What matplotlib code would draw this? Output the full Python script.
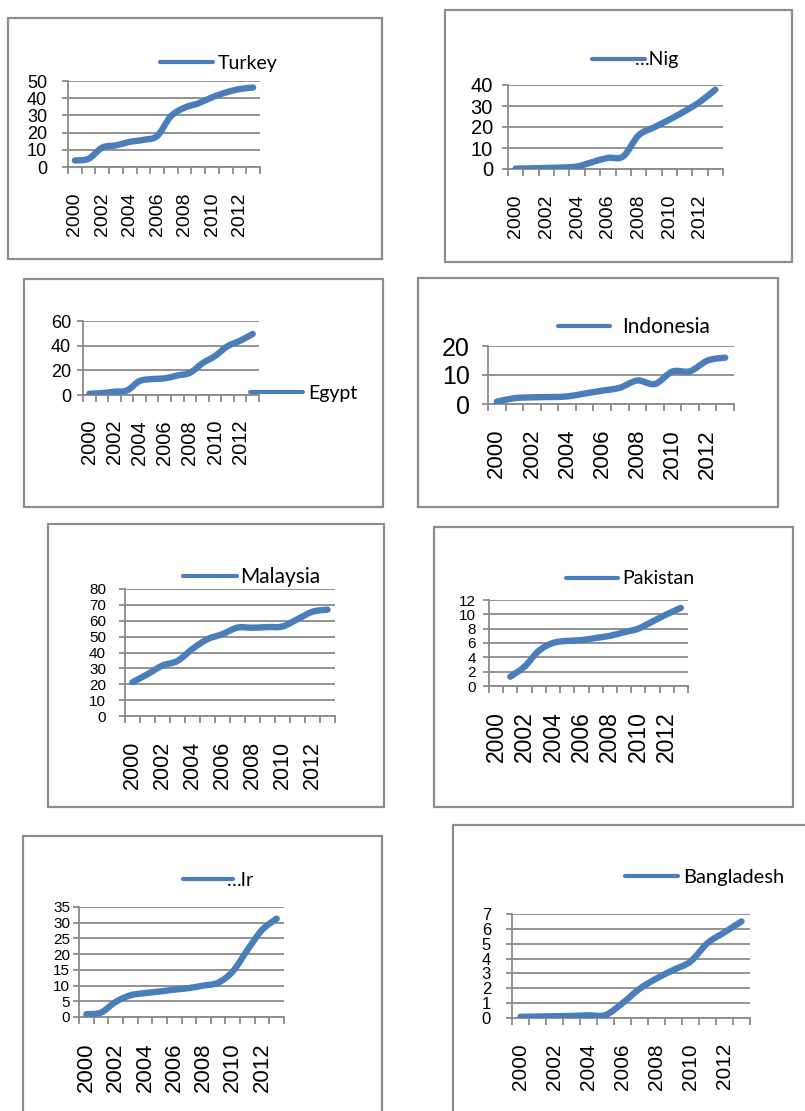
import numpy as np
import matplotlib
matplotlib.use("Agg")
import matplotlib.pyplot as plt
from matplotlib.path import Path
from matplotlib.patches import PathPatch, Rectangle
from matplotlib.lines import Line2D

plt.rcParams['font.family'] = ['Liberation Sans', 'DejaVu Sans']

# ---- data -------------------------------------------------------------
years = list(range(2000, 2014))
year_labels = [str(y) for y in years]

turkey = [3.8, 4.8, 11.3, 12.6, 14.6, 15.8, 18.0, 29.5, 34.5, 37.0, 40.5, 43.3, 45.3, 46.2]
nig = [0.2, 0.3, 0.5, 0.7, 1.2, 3.3, 5.3, 6.0, 16.0, 19.8, 23.5, 27.5, 32.0, 37.8]
egypt = [1.0, 1.5, 2.7, 3.7, 11.3, 12.9, 13.5, 15.8, 18.0, 25.7, 31.6, 39.6, 44.0, 49.5]
indonesia = [0.8, 2.0, 2.3, 2.4, 2.6, 3.6, 4.6, 5.6, 8.1, 6.9, 11.2, 11.3, 15.0, 16.0]
malaysia = [21.3, 26.3, 31.8, 34.7, 42.3, 48.4, 51.6, 55.7, 55.6, 56.0, 56.4, 61.0, 65.7, 67.0]
pakistan = [None, 1.3, 2.7, 4.9, 6.0, 6.3, 6.4, 6.7, 7.0, 7.5, 8.0, 9.0, 10.0, 10.9]
iran = [0.9, 1.4, 4.8, 6.9, 7.6, 8.1, 8.7, 9.2, 10.0, 10.9, 14.5, 21.3, 27.7, 31.3]
bangladesh = [0.08, 0.1, 0.12, 0.14, 0.18, 0.2, 1.0, 1.96, 2.66, 3.24, 3.8, 5.04, 5.77, 6.5]

series_names = ['Turkey', '…Nig', 'Egypt', 'Indonesia', 'Malaysia', 'Pakistan', '…Ir', 'Bangladesh']
series_values = [turkey, nig, egypt, indonesia, malaysia, pakistan, iran, bangladesh]
y_max = [50, 40, 60, 20, 80, 12, 35, 7]
y_step = [10, 10, 20, 10, 10, 2, 5, 1]

# ---- layout (pixels, origin top-left) ---------------------------------
W, H = 805, 1111
# chart frame, plot area, legend (line start, line end, text x, y)
frames = [(8, 18, 382, 259), (445, 10, 792, 262), (24, 279, 383, 507), (418, 278, 778, 507),
          (48, 524, 384, 807), (434, 527, 793, 807), (23, 836, 382, 1130), (453, 825, 830, 1130)]
plots = [(68, 81, 260, 167), (508, 85, 723, 169), (83, 321, 259, 395), (488, 346, 734, 404),
         (125, 589, 335, 716), (489, 600, 688, 686), (79, 907, 284, 1017), (512, 914, 750, 1018)]
legends = [(160, 213, 218, 63), (592, 645, 635, 60), (250, 303, 308, 393), (558, 610, 622, 327),
           (183, 237, 240, 577), (566, 618, 622, 579), (183, 233, 227, 880), (625, 678, 683, 877)]
ytick_fs = [13, 14.5, 13, 18, 11, 11, 11, 12]
xtick_fs = [14, 14, 14.5, 16, 15.5, 16.5, 16, 15]
legend_fs = [14, 14, 14, 15, 15, 14, 14, 14.5]
ylabel_gap = [15, 9, 6, 12, 13, 7, 3, 15]

LINE = '#4A7EBB'
GRID = '#8A8A8A'
FRAME = '#8C8C8C'
PX = 72 / 100  # points per pixel at dpi 100


def smooth_path(xs, ys):
    pts = np.column_stack([xs, ys]).astype(float)
    n = len(pts)
    verts = [pts[0]]
    codes = [Path.MOVETO]
    for i in range(n - 1):
        p0 = pts[i - 1] if i > 0 else pts[i]
        p1, p2 = pts[i], pts[i + 1]
        p3 = pts[i + 2] if i + 2 < n else pts[i + 1]
        verts += [p1 + (p2 - p0) / 6, p2 - (p3 - p1) / 6, p2]
        codes += [Path.CURVE4] * 3
    return Path(verts, codes)


fig = plt.figure(figsize=(W / 100, H / 100), dpi=100)
fig.patch.set_facecolor('white')

for k in range(8):
    fx0, fy0, fx1, fy1 = frames[k]
    fig.add_artist(Rectangle((fx0 / W, 1 - fy1 / H), (fx1 - fx0) / W, (fy1 - fy0) / H,
                             transform=fig.transFigure, fill=False, edgecolor=FRAME,
                             linewidth=1.6))

    L, T, R, B = plots[k]
    ax = fig.add_axes([L / W, 1 - B / H, (R - L) / W, (B - T) / H])
    ax.set_facecolor('none')
    ax.set_xlim(-0.5, len(years) - 0.5)
    ax.set_ylim(0, y_max[k])

    vals = series_values[k]
    xs = [i for i, v in enumerate(vals) if v is not None]
    ys = [v for v in vals if v is not None]
    ax.add_patch(PathPatch(smooth_path(xs, ys), fill=False, edgecolor=LINE,
                           linewidth=4.6, capstyle='round', joinstyle='round', zorder=3))

    for s in ['top', 'right']:
        ax.spines[s].set_visible(False)
    for s in ['left', 'bottom']:
        ax.spines[s].set_color(GRID)
        ax.spines[s].set_linewidth(1.3)

    ax.set_yticks(np.arange(0, y_max[k] + 0.001, y_step[k]))
    ax.yaxis.grid(True, color=GRID, linewidth=1.3)
    ax.set_axisbelow(True)
    ax.tick_params(axis='y', length=6 * PX, width=1.3, color=GRID,
                   labelsize=ytick_fs[k], pad=ylabel_gap[k] * PX)

    ax.set_xticks(np.arange(-0.5, len(years), 1.0))
    ax.set_xticklabels([])
    ax.set_xticks(np.arange(0, len(years), 2), minor=True)
    ax.set_xticklabels(year_labels[::2], minor=True, rotation=90)
    ax.tick_params(axis='x', which='major', length=7 * PX, width=1.3, color=GRID)
    ax.tick_params(axis='x', which='minor', length=0, labelsize=xtick_fs[k], pad=25 * PX)

    lx0, lx1, tx, ly = legends[k]
    fs = legend_fs[k]
    em = fs / PX
    handle = Line2D([], [], color=LINE, linewidth=3.0, solid_capstyle='round')
    ax.legend([handle], [series_names[k]], loc='center left',
              bbox_to_anchor=(lx0 / W, 1 - ly / H), bbox_transform=fig.transFigure,
              frameon=False, borderpad=0, borderaxespad=0,
              handlelength=(lx1 - lx0) / em, handletextpad=(tx - lx1) / em,
              prop={'family': ['Lato', 'DejaVu Sans'], 'size': fs})

fig.savefig('out.png', dpi=100, facecolor='white')
